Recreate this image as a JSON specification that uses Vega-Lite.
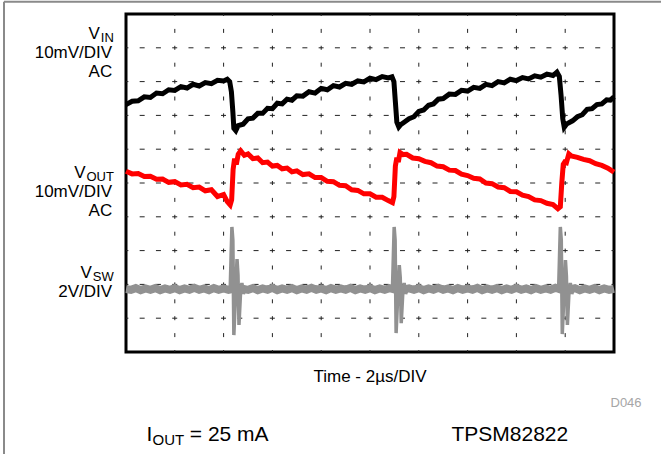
{
  "$schema": "https://vega.github.io/schema/vega-lite/v6.json",
  "width": 488,
  "height": 338,
  "autosize": {"type": "none"},
  "padding": {"left": 126, "top": 14, "right": 47, "bottom": 102},
  "background": "white",
  "config": {"view": {"stroke": "#000", "strokeWidth": 3}},
  "datasets": {
    "vin": [
      {"t":0,"v":7.32},{"t":0.25,"v":7.42},{"t":0.5,"v":7.43},{"t":0.75,"v":7.55},{"t":1.0,"v":7.53},{"t":1.25,"v":7.66},{"t":1.5,"v":7.64},{"t":1.75,"v":7.76},{"t":2.0,"v":7.74},{"t":2.25,"v":7.85},{"t":2.5,"v":7.81},{"t":2.75,"v":7.92},{"t":3.0,"v":7.87},{"t":3.25,"v":7.97},{"t":3.5,"v":7.94},{"t":3.75,"v":8.04},{"t":4.0,"v":8.02},{"t":4.15,"v":8.07},{"t":4.25,"v":8.0},{"t":4.32,"v":7.7},{"t":4.38,"v":7.1},{"t":4.42,"v":6.62},{"t":4.5,"v":6.55},
      {"t":4.6,"v":6.7},{"t":4.8,"v":6.74},{"t":5.0,"v":6.9},{"t":5.2,"v":6.92},{"t":5.4,"v":7.06},{"t":5.6,"v":7.06},{"t":5.8,"v":7.21},{"t":6.0,"v":7.2},{"t":6.2,"v":7.36},{"t":6.4,"v":7.34},{"t":6.6,"v":7.48},{"t":6.8,"v":7.45},{"t":7.0,"v":7.58},{"t":7.25,"v":7.57},{"t":7.5,"v":7.7},{"t":7.75,"v":7.66},{"t":8.0,"v":7.8},{"t":8.25,"v":7.76},{"t":8.5,"v":7.88},{"t":8.75,"v":7.84},{"t":9.0,"v":7.95},{"t":9.25,"v":7.92},{"t":9.5,"v":8.02},{"t":9.75,"v":7.99},{"t":10.0,"v":8.1},{"t":10.25,"v":8.06},{"t":10.5,"v":8.15},{"t":10.75,"v":8.11},{"t":10.9,"v":8.14},{"t":10.98,"v":8.0},{"t":11.04,"v":7.4},{"t":11.1,"v":6.8},{"t":11.18,"v":6.66},{"t":11.25,"v":6.72},
      {"t":11.4,"v":6.8},{"t":11.6,"v":6.9},{"t":11.8,"v":6.96},{"t":12.0,"v":7.12},{"t":12.2,"v":7.16},{"t":12.4,"v":7.3},{"t":12.6,"v":7.34},{"t":12.8,"v":7.48},{"t":13.0,"v":7.5},{"t":13.25,"v":7.63},{"t":13.5,"v":7.62},{"t":13.75,"v":7.74},{"t":14.0,"v":7.72},{"t":14.25,"v":7.83},{"t":14.5,"v":7.8},{"t":14.75,"v":7.92},{"t":15.0,"v":7.88},{"t":15.25,"v":8.0},{"t":15.5,"v":7.96},{"t":15.75,"v":8.07},{"t":16.0,"v":8.03},{"t":16.25,"v":8.12},{"t":16.5,"v":8.08},{"t":16.75,"v":8.17},{"t":17.0,"v":8.13},{"t":17.25,"v":8.22},{"t":17.5,"v":8.18},{"t":17.66,"v":8.28},{"t":17.76,"v":8.15},{"t":17.83,"v":7.6},{"t":17.9,"v":6.9},{"t":17.96,"v":6.65},{"t":18.05,"v":6.74},
      {"t":18.3,"v":6.84},{"t":18.5,"v":6.96},{"t":18.7,"v":7.02},{"t":18.9,"v":7.18},{"t":19.1,"v":7.2},{"t":19.3,"v":7.32},{"t":19.5,"v":7.34},{"t":19.7,"v":7.46},{"t":19.85,"v":7.45},{"t":20.0,"v":7.55}
    ],
    "vout": [
      {"t":0,"v":5.35},{"t":0.25,"v":5.27},{"t":0.5,"v":5.28},{"t":0.75,"v":5.19},{"t":1.0,"v":5.2},{"t":1.25,"v":5.11},{"t":1.5,"v":5.12},{"t":1.75,"v":5.02},{"t":2.0,"v":5.04},{"t":2.25,"v":4.94},{"t":2.5,"v":4.96},{"t":2.75,"v":4.86},{"t":3.0,"v":4.88},{"t":3.25,"v":4.77},{"t":3.5,"v":4.8},{"t":3.75,"v":4.6},{"t":4.0,"v":4.66},{"t":4.15,"v":4.45},{"t":4.27,"v":4.35},{"t":4.33,"v":4.5},{"t":4.39,"v":5.4},{"t":4.45,"v":5.72},{"t":4.52,"v":5.55},{"t":4.6,"v":5.85},{"t":4.7,"v":5.95},
      {"t":4.85,"v":5.82},{"t":5.0,"v":5.86},{"t":5.2,"v":5.72},{"t":5.4,"v":5.74},{"t":5.6,"v":5.6},{"t":5.8,"v":5.62},{"t":6.0,"v":5.5},{"t":6.2,"v":5.52},{"t":6.4,"v":5.42},{"t":6.6,"v":5.44},{"t":6.8,"v":5.33},{"t":7.0,"v":5.36},{"t":7.25,"v":5.25},{"t":7.5,"v":5.27},{"t":7.75,"v":5.16},{"t":8.0,"v":5.16},{"t":8.25,"v":5.05},{"t":8.5,"v":5.04},{"t":8.75,"v":4.93},{"t":9.0,"v":4.92},{"t":9.25,"v":4.8},{"t":9.5,"v":4.78},{"t":9.75,"v":4.68},{"t":10.0,"v":4.68},{"t":10.25,"v":4.58},{"t":10.5,"v":4.58},{"t":10.75,"v":4.48},{"t":10.92,"v":4.42},{"t":10.98,"v":4.6},{"t":11.04,"v":5.5},{"t":11.1,"v":5.75},{"t":11.16,"v":5.62},{"t":11.23,"v":5.9},
      {"t":11.35,"v":5.84},{"t":11.5,"v":5.85},{"t":11.75,"v":5.74},{"t":12.0,"v":5.72},{"t":12.25,"v":5.64},{"t":12.5,"v":5.6},{"t":12.75,"v":5.5},{"t":13.0,"v":5.48},{"t":13.25,"v":5.38},{"t":13.5,"v":5.37},{"t":13.75,"v":5.26},{"t":14.0,"v":5.22},{"t":14.25,"v":5.14},{"t":14.5,"v":5.12},{"t":14.75,"v":5.0},{"t":15.0,"v":4.98},{"t":15.25,"v":4.88},{"t":15.5,"v":4.86},{"t":15.75,"v":4.75},{"t":16.0,"v":4.74},{"t":16.25,"v":4.64},{"t":16.5,"v":4.6},{"t":16.75,"v":4.5},{"t":17.0,"v":4.48},{"t":17.25,"v":4.4},{"t":17.5,"v":4.36},{"t":17.7,"v":4.24},{"t":17.8,"v":4.3},{"t":17.86,"v":5.0},{"t":17.92,"v":5.55},{"t":17.98,"v":5.62},{"t":18.05,"v":5.6},{"t":18.15,"v":5.86},
      {"t":18.25,"v":5.8},{"t":18.5,"v":5.76},{"t":18.75,"v":5.7},{"t":19.0,"v":5.66},{"t":19.25,"v":5.57},{"t":19.5,"v":5.52},{"t":19.75,"v":5.44},{"t":20.0,"v":5.32}
    ],
    "vswbase": [
      {"t":0,"v":1.86},{"t":0.2,"v":1.84},{"t":0.4,"v":1.89},{"t":0.6,"v":1.83},{"t":0.8,"v":1.88},{"t":1.0,"v":1.84},{"t":1.2,"v":1.89},{"t":1.4,"v":1.83},{"t":1.6,"v":1.88},{"t":1.8,"v":1.84},{"t":2.0,"v":1.89},{"t":2.2,"v":1.83},{"t":2.4,"v":1.88},{"t":2.6,"v":1.84},{"t":2.8,"v":1.9},{"t":3.0,"v":1.84},{"t":3.2,"v":1.88},{"t":3.4,"v":1.83},{"t":3.6,"v":1.89},{"t":3.8,"v":1.84},{"t":4.0,"v":1.88},{"t":4.2,"v":1.84},{"t":4.4,"v":1.87},{"t":4.6,"v":1.85},{"t":4.8,"v":1.87},
      {"t":5.0,"v":1.84},{"t":5.2,"v":1.89},{"t":5.4,"v":1.83},{"t":5.6,"v":1.88},{"t":5.8,"v":1.84},{"t":6.0,"v":1.9},{"t":6.2,"v":1.83},{"t":6.4,"v":1.88},{"t":6.6,"v":1.84},{"t":6.8,"v":1.89},{"t":7.0,"v":1.83},{"t":7.2,"v":1.88},{"t":7.4,"v":1.84},{"t":7.6,"v":1.9},{"t":7.8,"v":1.84},{"t":8.0,"v":1.88},{"t":8.2,"v":1.83},{"t":8.4,"v":1.89},{"t":8.6,"v":1.84},{"t":8.8,"v":1.88},{"t":9.0,"v":1.84},{"t":9.2,"v":1.9},{"t":9.4,"v":1.83},{"t":9.6,"v":1.88},{"t":9.8,"v":1.84},{"t":10.0,"v":1.89},{"t":10.2,"v":1.83},{"t":10.4,"v":1.88},{"t":10.6,"v":1.84},{"t":10.8,"v":1.89},
      {"t":11.0,"v":1.85},{"t":11.2,"v":1.87},{"t":11.4,"v":1.85},{"t":11.6,"v":1.88},{"t":11.8,"v":1.84},{"t":12.0,"v":1.89},{"t":12.2,"v":1.83},{"t":12.4,"v":1.88},{"t":12.6,"v":1.84},{"t":12.8,"v":1.9},{"t":13.0,"v":1.84},{"t":13.2,"v":1.88},{"t":13.4,"v":1.83},{"t":13.6,"v":1.89},{"t":13.8,"v":1.84},{"t":14.0,"v":1.88},{"t":14.2,"v":1.84},{"t":14.4,"v":1.9},{"t":14.6,"v":1.83},{"t":14.8,"v":1.88},{"t":15.0,"v":1.84},{"t":15.2,"v":1.89},{"t":15.4,"v":1.83},{"t":15.6,"v":1.88},{"t":15.8,"v":1.84},
      {"t":16.0,"v":1.9},{"t":16.2,"v":1.84},{"t":16.4,"v":1.88},{"t":16.6,"v":1.83},{"t":16.8,"v":1.89},{"t":17.0,"v":1.84},{"t":17.2,"v":1.88},{"t":17.4,"v":1.84},{"t":17.6,"v":1.9},{"t":17.8,"v":1.85},{"t":18.0,"v":1.87},{"t":18.2,"v":1.85},{"t":18.4,"v":1.89},{"t":18.6,"v":1.83},{"t":18.8,"v":1.88},{"t":19.0,"v":1.84},{"t":19.2,"v":1.89},{"t":19.4,"v":1.83},{"t":19.6,"v":1.88},{"t":19.8,"v":1.84},{"t":20.0,"v":1.87}
    ],
    "vswspikes": [
      {"k":1,"t":4.27,"v":1.86},{"k":1,"t":4.34,"v":3.7},{"k":1,"t":4.38,"v":3.31},{"k":1,"t":4.42,"v":0.5},{"k":1,"t":4.48,"v":1.54},{"k":1,"t":4.55,"v":2.75},{"k":1,"t":4.59,"v":2.28},{"k":1,"t":4.63,"v":0.8},{"k":1,"t":4.69,"v":1.69},{"k":1,"t":4.75,"v":2.04},{"k":1,"t":4.81,"v":1.72},{"k":1,"t":4.87,"v":1.86},
      {"k":2,"t":10.92,"v":1.86},{"k":2,"t":10.99,"v":3.7},{"k":2,"t":11.03,"v":3.31},{"k":2,"t":11.07,"v":0.56},{"k":2,"t":11.13,"v":1.54},{"k":2,"t":11.2,"v":2.57},{"k":2,"t":11.24,"v":2.2},{"k":2,"t":11.28,"v":0.85},{"k":2,"t":11.34,"v":1.69},{"k":2,"t":11.4,"v":2.04},{"k":2,"t":11.46,"v":1.72},{"k":2,"t":11.52,"v":1.86},
      {"k":3,"t":17.73,"v":1.86},{"k":3,"t":17.8,"v":3.7},{"k":3,"t":17.84,"v":3.31},{"k":3,"t":17.88,"v":0.53},{"k":3,"t":17.94,"v":1.54},{"k":3,"t":18.01,"v":2.72},{"k":3,"t":18.05,"v":2.25},{"k":3,"t":18.09,"v":0.8},{"k":3,"t":18.15,"v":1.69},{"k":3,"t":18.21,"v":2.04},{"k":3,"t":18.27,"v":1.72},{"k":3,"t":18.33,"v":1.86}
    ],
    "hgrid": [{"v":1},{"v":2},{"v":3},{"v":4},{"v":5},{"v":6},{"v":7},{"v":8},{"v":9}],
    "vgrid": [{"t":2},{"t":4},{"t":6},{"t":8},{"t":10},{"t":12},{"t":14},{"t":16},{"t":18}],
    "mainlabels": [
      {"text":"10mV/DIV","t":-0.566,"v":8.7},
      {"text":"AC","t":-0.566,"v":8.14},
      {"text":"10mV/DIV","t":-0.566,"v":4.59},
      {"text":"AC","t":-0.566,"v":4.02},
      {"text":"2V/DIV","t":-0.566,"v":1.62},
      {"text":"V","t":-1.07,"v":9.27},
      {"text":"V","t":-1.66,"v":5.15},
      {"text":"V","t":-1.40,"v":2.18}
    ],
    "subs": [
      {"text":"IN","t":-1.03,"v":9.27},
      {"text":"OUT","t":-1.62,"v":5.15},
      {"text":"SW","t":-1.36,"v":2.18}
    ],
    "bottom": [
      {"text":"I","t":0.84,"v":-2.62},
      {"text":"= 25 mA","t":2.615,"v":-2.62},
      {"text":"TPSM82822","t":13.34,"v":-2.62}
    ],
    "bottomsub": [{"text":"OUT","t":1.09,"v":-2.62}],
    "xtitle": [{"text":"Time - 2µs/DIV","t":10,"v":-0.89}],
    "code": [{"text":"D046","t":21.13,"v":-1.63}],
    "border": [
      {"t":-5.0,"t2":-5.0,"v":-3.2,"v2":10.36},
      {"t":-5.0,"t2":22.5,"v":10.36,"v2":10.36}
    ]
  },
  "layer": [
    {
      "data": {"name": "border"},
      "mark": {"type": "rule", "stroke": "#8a8a8a", "strokeWidth": 2},
      "encoding": {
        "x": {"field": "t", "type": "quantitative", "scale": {"domain": [0, 20], "nice": false, "zero": false}, "axis": null},
        "x2": {"field": "t2"},
        "y": {"field": "v", "type": "quantitative", "scale": {"domain": [0, 10], "nice": false, "zero": false}, "axis": null},
        "y2": {"field": "v2"}
      }
    },
    {
      "data": {"name": "hgrid"},
      "mark": {"type": "rule", "stroke": "#222", "strokeWidth": 1, "strokeDash": [5, 11.27], "strokeDashOffset": 2.5},
      "encoding": {
        "y": {"field": "v", "type": "quantitative", "scale": {"domain": [0, 10], "nice": false, "zero": false}, "axis": null}
      }
    },
    {
      "data": {"name": "vgrid"},
      "mark": {"type": "rule", "stroke": "#222", "strokeWidth": 1, "strokeDash": [4, 12.9], "strokeDashOffset": 2},
      "encoding": {
        "x": {"field": "t", "type": "quantitative", "scale": {"domain": [0, 20], "nice": false, "zero": false}, "axis": null}
      }
    },
    {
      "data": {"name": "vswbase"},
      "mark": {"type": "line", "stroke": "#919191", "strokeWidth": 8},
      "encoding": {
        "x": {"field": "t", "type": "quantitative", "scale": {"domain": [0, 20], "nice": false, "zero": false}, "axis": null},
        "y": {"field": "v", "type": "quantitative", "scale": {"domain": [0, 10], "nice": false, "zero": false}, "axis": null}
      }
    },
    {
      "data": {"name": "vswspikes"},
      "mark": {"type": "line", "stroke": "#919191", "strokeWidth": 3.5},
      "encoding": {
        "x": {"field": "t", "type": "quantitative", "scale": {"domain": [0, 20], "nice": false, "zero": false}, "axis": null},
        "y": {"field": "v", "type": "quantitative", "scale": {"domain": [0, 10], "nice": false, "zero": false}, "axis": null},
        "detail": {"field": "k", "type": "nominal"}
      }
    },
    {
      "data": {"name": "vout"},
      "mark": {"type": "line", "stroke": "#ff0000", "strokeWidth": 5},
      "encoding": {
        "x": {"field": "t", "type": "quantitative", "scale": {"domain": [0, 20], "nice": false, "zero": false}, "axis": null},
        "y": {"field": "v", "type": "quantitative", "scale": {"domain": [0, 10], "nice": false, "zero": false}, "axis": null}
      }
    },
    {
      "data": {"name": "vin"},
      "mark": {"type": "line", "stroke": "#000000", "strokeWidth": 5},
      "encoding": {
        "x": {"field": "t", "type": "quantitative", "scale": {"domain": [0, 20], "nice": false, "zero": false}, "axis": null},
        "y": {"field": "v", "type": "quantitative", "scale": {"domain": [0, 10], "nice": false, "zero": false}, "axis": null}
      }
    },
    {
      "data": {"name": "mainlabels"},
      "mark": {"type": "text", "font": "Liberation Sans", "fontSize": 17, "align": "right", "baseline": "alphabetic", "color": "#000"},
      "encoding": {
        "x": {"field": "t", "type": "quantitative", "scale": {"domain": [0, 20], "nice": false, "zero": false}, "axis": null},
        "y": {"field": "v", "type": "quantitative", "scale": {"domain": [0, 10], "nice": false, "zero": false}, "axis": null},
        "text": {"field": "text"}
      }
    },
    {
      "data": {"name": "subs"},
      "mark": {"type": "text", "font": "Liberation Sans", "fontSize": 13, "align": "left", "baseline": "alphabetic", "dy": 3, "color": "#000"},
      "encoding": {
        "x": {"field": "t", "type": "quantitative", "scale": {"domain": [0, 20], "nice": false, "zero": false}, "axis": null},
        "y": {"field": "v", "type": "quantitative", "scale": {"domain": [0, 10], "nice": false, "zero": false}, "axis": null},
        "text": {"field": "text"}
      }
    },
    {
      "data": {"name": "xtitle"},
      "mark": {"type": "text", "font": "Liberation Sans", "fontSize": 17, "align": "center", "baseline": "alphabetic", "color": "#000"},
      "encoding": {
        "x": {"field": "t", "type": "quantitative", "scale": {"domain": [0, 20], "nice": false, "zero": false}, "axis": null},
        "y": {"field": "v", "type": "quantitative", "scale": {"domain": [0, 10], "nice": false, "zero": false}, "axis": null},
        "text": {"field": "text"}
      }
    },
    {
      "data": {"name": "code"},
      "mark": {"type": "text", "font": "Liberation Sans", "fontSize": 13, "align": "right", "baseline": "alphabetic", "color": "#a6a6a6"},
      "encoding": {
        "x": {"field": "t", "type": "quantitative", "scale": {"domain": [0, 20], "nice": false, "zero": false}, "axis": null},
        "y": {"field": "v", "type": "quantitative", "scale": {"domain": [0, 10], "nice": false, "zero": false}, "axis": null},
        "text": {"field": "text"}
      }
    },
    {
      "data": {"name": "bottom"},
      "mark": {"type": "text", "font": "Liberation Sans", "fontSize": 21, "align": "left", "baseline": "alphabetic", "color": "#000"},
      "encoding": {
        "x": {"field": "t", "type": "quantitative", "scale": {"domain": [0, 20], "nice": false, "zero": false}, "axis": null},
        "y": {"field": "v", "type": "quantitative", "scale": {"domain": [0, 10], "nice": false, "zero": false}, "axis": null},
        "text": {"field": "text"}
      }
    },
    {
      "data": {"name": "bottomsub"},
      "mark": {"type": "text", "font": "Liberation Sans", "fontSize": 15, "align": "left", "baseline": "alphabetic", "dy": 4, "color": "#000"},
      "encoding": {
        "x": {"field": "t", "type": "quantitative", "scale": {"domain": [0, 20], "nice": false, "zero": false}, "axis": null},
        "y": {"field": "v", "type": "quantitative", "scale": {"domain": [0, 10], "nice": false, "zero": false}, "axis": null},
        "text": {"field": "text"}
      }
    }
  ]
}
